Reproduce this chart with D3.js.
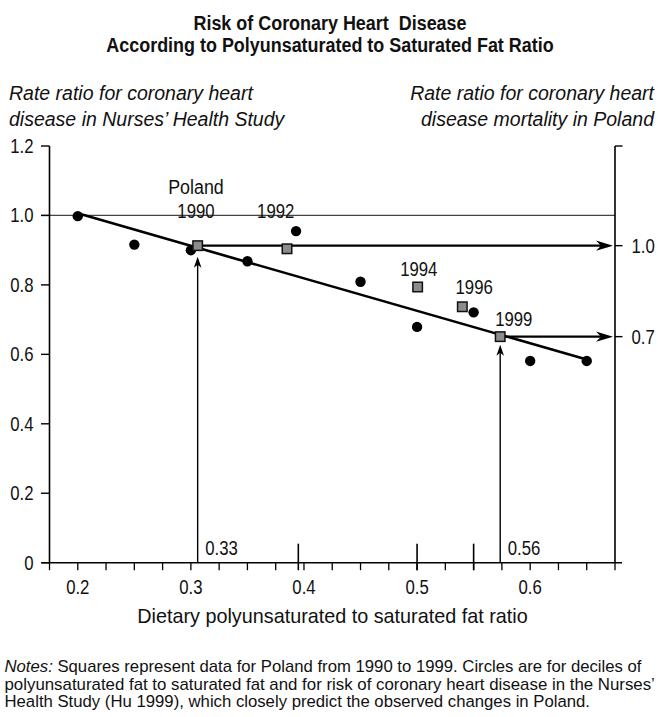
<!DOCTYPE html>
<html>
<head>
<meta charset="utf-8">
<script src="https://cdn.jsdelivr.net/npm/d3@7"></script>
<style>
  html, body { margin: 0; padding: 0; background: #fff; overflow: hidden; }
  svg { display: block; }
  text { white-space: pre; fill: #111; }
</style>
</head>
<body>
<svg id="chart" width="658" height="717"></svg>
<script>
// ---------------- data ----------------
const titleLines = ["Risk of Coronary Heart  Disease", "According to Polyunsaturated to Saturated Fat Ratio"];
const leftTitle = ["Rate ratio for coronary heart", "disease in Nurses\u2019 Health Study"];
const rightTitle = ["Rate ratio for coronary heart", "disease mortality in Poland"];
const xTitle = "Dietary polyunsaturated to saturated fat ratio";

// Nurses' Health Study deciles (circles)
const decileRatio = [0.20, 0.25, 0.30, 0.35, 0.393, 0.45, 0.50, 0.55, 0.60, 0.65];
const decileRisk  = [0.998, 0.916, 0.900, 0.868, 0.955, 0.809, 0.679, 0.721, 0.581, 0.581];

// Poland (squares)
const polandYears = ["1990", "1992", "1994", "1996", "1999"];
const polandRatio = [0.306, 0.385, 0.5005, 0.540, 0.5735];
const polandRisk  = [0.913, 0.904, 0.794, 0.737, 0.651];

// regression line endpoints
const fitRatio = [0.20, 0.65];
const fitRisk  = [1.006, 0.585];

// year label anchors (data units)
const yearLabelRatio = [0.3045, 0.375, 0.5015, 0.5505, 0.5855];
const yearLabelRisk  = [0.993, 0.993, 0.827, 0.773, 0.682];
const polandWordRisk = [1.062];

// axes
const xTickMajor = [0.2, 0.3, 0.4, 0.5, 0.6];
const xTickMinor = d3.range(0, 21).map(i => +(0.175 + i * 0.025).toFixed(3));
const xTickTall = [0.395, 0.5, 0.55];
const yTicks = [0, 0.2, 0.4, 0.6, 0.8, 1.0, 1.2];
const rightTicks = [0.7, 1.0];
const rightTickLeftEquiv = [0.651, 0.913];   // where 0.7 and 1.0 sit on the left scale
const refLine = [1.0];
const arrowRatios = [0.306, 0.5735];
const arrowLabels = ["0.33", "0.56"];

const notesItalic = "Notes:";
const notesLines = [
  " Squares represent data for Poland from 1990 to 1999. Circles are for deciles of",
  "polyunsaturated fat to saturated fat and for risk of coronary heart disease in the Nurses\u2019",
  "Health Study (Hu 1999), which closely predict the observed changes in Poland."
];

// ---------------- drawing ----------------
const TXT = "'Liberation Sans', Arial, sans-serif";
const NUM_SIZE = 19.5, NUM_SCALE = 0.86;

const svg = d3.select("#chart");
const x = d3.scaleLinear().domain([0.175, 0.675]).range([49.5, 615]);
const y = d3.scaleLinear().domain([0, 1.2]).range([562.7, 146]);
const yR = d3.scaleLinear().domain(rightTicks).range(rightTickLeftEquiv.map(y));

const X0 = x(0.175), X1 = x(0.675), Y0 = y(0), Y1 = y(1.2);

// condensed numeric text helper
function numText(sel, xf, yf) {
  return sel.attr("x", 0).attr("y", 0)
    .attr("transform", (d, i) => `translate(${xf(d, i)},${yf(d, i)}) scale(${NUM_SCALE},1)`)
    .style("font-family", TXT).style("font-size", NUM_SIZE + "px");
}

// titles
svg.append("g").selectAll("text").data(titleLines).join("text")
  .attr("x", 0).attr("y", 0)
  .attr("transform", (d, i) => `translate(330,${29.5 + i * 22.5}) scale(0.925,1)`)
  .attr("text-anchor", "middle")
  .style("font-family", TXT).style("font-weight", "bold").style("font-size", "19.4px")
  .text(d => d);

svg.append("g").selectAll("text").data(leftTitle).join("text")
  .attr("x", 9).attr("y", (d, i) => 100 + i * 26)
  .style("font-family", TXT).style("font-style", "italic").style("font-size", "19.5px")
  .text(d => d);

svg.append("g").selectAll("text").data(rightTitle).join("text")
  .attr("x", 654).attr("y", (d, i) => 100 + i * 26)
  .attr("text-anchor", "end")
  .style("font-family", TXT).style("font-style", "italic").style("font-size", "19.5px")
  .text(d => d);

// reference line at 1.0
svg.append("g").selectAll("line").data(refLine).join("line")
  .attr("x1", X0 - 8).attr("x2", X1)
  .attr("y1", d => y(d)).attr("y2", d => y(d))
  .attr("stroke", "#444").attr("stroke-width", 1.2);

// left axis
const gL = svg.append("g");
gL.append("line").attr("x1", X0).attr("x2", X0).attr("y1", Y1).attr("y2", Y0)
  .attr("stroke", "#000").attr("stroke-width", 1.6);
gL.selectAll("line.t").data(yTicks).join("line").attr("class", "t")
  .attr("x1", X0 - 8.5).attr("x2", X0).attr("y1", d => y(d)).attr("y2", d => y(d))
  .attr("stroke", "#000").attr("stroke-width", 1.4);
numText(gL.selectAll("text").data(yTicks).join("text"), () => X0 - 16, d => y(d))
  .attr("dy", "0.36em").attr("text-anchor", "end")
  .text(d => d === 0 ? "0" : d.toFixed(1));

// right axis
const gR = svg.append("g");
gR.append("line").attr("x1", X1).attr("x2", X1).attr("y1", Y1).attr("y2", Y0)
  .attr("stroke", "#000").attr("stroke-width", 1.6);
gR.append("line").attr("x1", X1).attr("x2", X1 + 7.5).attr("y1", Y1).attr("y2", Y1)
  .attr("stroke", "#000").attr("stroke-width", 1.4);
gR.selectAll("line.t").data(rightTicks).join("line").attr("class", "t")
  .attr("x1", X1).attr("x2", X1 + 7.5).attr("y1", d => yR(d)).attr("y2", d => yR(d))
  .attr("stroke", "#000").attr("stroke-width", 1.4);
numText(gR.selectAll("text").data(rightTicks).join("text"), () => X1 + 16.5, d => yR(d))
  .attr("dy", "0.36em")
  .text(d => d.toFixed(1));

// bottom axis
const gB = svg.append("g");
gB.append("line").attr("x1", X0 - 8).attr("x2", X1 + 7).attr("y1", Y0).attr("y2", Y0)
  .attr("stroke", "#000").attr("stroke-width", 1.6);
gB.selectAll("line.m").data(xTickMinor).join("line").attr("class", "m")
  .attr("x1", d => x(d)).attr("x2", d => x(d)).attr("y1", Y0).attr("y2", Y0 + 7.5)
  .attr("stroke", "#000").attr("stroke-width", 1.3);
gB.selectAll("line.tall").data(xTickTall).join("line").attr("class", "tall")
  .attr("x1", d => x(d)).attr("x2", d => x(d)).attr("y1", Y0 - 19).attr("y2", Y0 + 7.5)
  .attr("stroke", "#000").attr("stroke-width", 1.6);
numText(gB.selectAll("text").data(xTickMajor).join("text"), d => x(d), () => 594)
  .attr("text-anchor", "middle")
  .text(d => d.toFixed(1));
svg.append("text").attr("x", 332.5).attr("y", 623).attr("text-anchor", "middle")
  .style("font-family", TXT).style("font-size", "19.8px")
  .text(xTitle);

// vertical arrows from x-axis to squares
const vTip = [11, 8];
const gV = svg.append("g");
arrowRatios.forEach((r, i) => {
  const idx = polandRatio.indexOf(r);
  const px = x(r);
  const tipY = y(polandRisk[idx]) + vTip[i];
  gV.append("line").attr("x1", px).attr("x2", px).attr("y1", Y0).attr("y2", tipY + 5)
    .attr("stroke", "#000").attr("stroke-width", 1.4);
  gV.append("path")
    .attr("d", `M${px},${tipY} L${px - 3.8},${tipY + 11} L${px},${tipY + 8} L${px + 3.8},${tipY + 11} Z`)
    .attr("fill", "#000");
  numText(gV.append("text").datum(arrowLabels[i]), () => px + 7.5, () => 555)
    .text(arrowLabels[i]);
});

// horizontal arrows from squares to right axis
const gH = svg.append("g");
arrowRatios.forEach((r, i) => {
  const py = yR(rightTicks[rightTicks.length - 1 - i]);
  const tipX = X1 - 2;
  gH.append("line").attr("x1", x(r)).attr("x2", tipX - 10).attr("y1", py).attr("y2", py)
    .attr("stroke", "#000").attr("stroke-width", 2.2);
  gH.append("path")
    .attr("d", `M${tipX},${py} L${tipX - 17},${py - 5.2} L${tipX - 12},${py} L${tipX - 17},${py + 5.2} Z`)
    .attr("fill", "#000");
});

// regression line
svg.append("line")
  .attr("x1", x(fitRatio[0])).attr("y1", y(fitRisk[0]))
  .attr("x2", x(fitRatio[1])).attr("y2", y(fitRisk[1]))
  .attr("stroke", "#000").attr("stroke-width", 2.6);

// circles
svg.append("g").selectAll("circle").data(decileRatio).join("circle")
  .attr("cx", d => x(d)).attr("cy", (d, i) => y(decileRisk[i])).attr("r", 5.2)
  .attr("fill", "#000");

// squares
const sq = 9.5;
svg.append("g").selectAll("rect").data(polandRatio).join("rect")
  .attr("x", d => x(d) - sq / 2).attr("y", (d, i) => y(polandRisk[i]) - sq / 2)
  .attr("width", sq).attr("height", sq)
  .attr("fill", "#8c8c8c").attr("stroke", "#111").attr("stroke-width", 1.5);

// year labels
numText(svg.append("g").selectAll("text").data(polandYears).join("text"),
        (d, i) => x(yearLabelRatio[i]), (d, i) => y(yearLabelRisk[i]))
  .attr("text-anchor", "middle")
  .text(d => d);
svg.append("text")
  .attr("x", 0).attr("y", 0)
  .attr("transform", `translate(${x(yearLabelRatio[0])},${y(polandWordRisk[0])}) scale(0.92,1)`)
  .attr("text-anchor", "middle")
  .style("font-family", TXT).style("font-size", "19.4px")
  .text("Poland");

// notes (each line fitted to the reference's line width)
const notesTargets = [636.5, 650, 585.5];
const notes = svg.append("g").style("font-family", TXT).style("font-size", "16.8px");
notesLines.forEach((line, i) => {
  const t = notes.append("text").attr("x", 0).attr("y", 0);
  if (i === 0) t.append("tspan").style("font-style", "italic").text(notesItalic);
  t.append("tspan").text(line);
  const w = t.node().getComputedTextLength();
  const s = notesTargets[i] / w;
  t.attr("transform", `translate(4.5,${672 + i * 17.6}) scale(${s},1)`);
});
</script>
</body>
</html>
